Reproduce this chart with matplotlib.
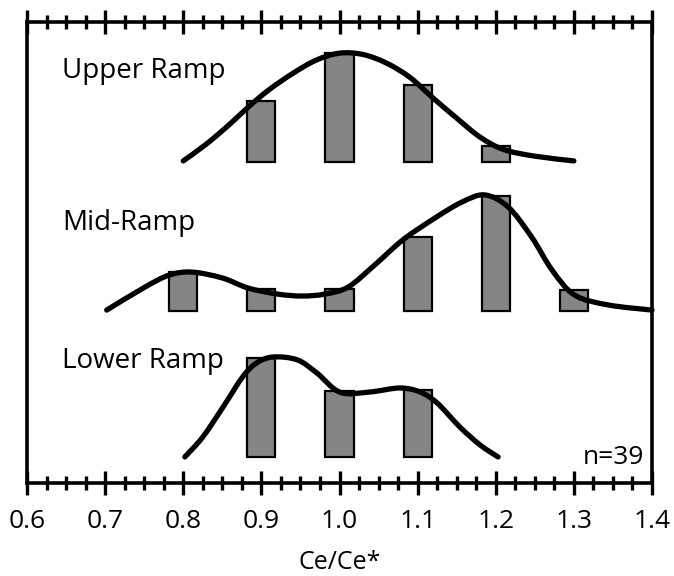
import matplotlib
matplotlib.use("Agg")
import matplotlib.pyplot as plt
from matplotlib.ticker import MultipleLocator
from matplotlib.path import Path
from matplotlib.patches import PathPatch

plt.rcParams['font.family'] = ['Open Sans', 'DejaVu Sans']

# ---------------- data (heights in count-like units) ----------------
upper_bins = [0.9, 1.0, 1.1, 1.2]
upper_vals = [3.2, 5.75, 4.05, 0.85]
upper_curve_x = [0.80, 0.83, 0.86, 0.885, 0.91, 0.94, 0.97, 1.00, 1.03,
                 1.06, 1.09, 1.12, 1.15, 1.18, 1.21, 1.25, 1.30]
upper_curve_y = [0.05, 0.95, 2.0, 2.95, 3.8, 4.65, 5.35, 5.72, 5.65,
                 5.2, 4.45, 3.35, 2.3, 1.3, 0.65, 0.3, 0.05]

mid_bins = [0.8, 0.9, 1.0, 1.1, 1.2, 1.3]
mid_vals = [2.05, 1.15, 1.15, 3.9, 6.05, 1.1]
mid_curve_x = [0.702, 0.751, 0.782, 0.811, 0.850, 0.883, 0.921, 0.952, 0.981,
               1.011, 1.045, 1.081, 1.122, 1.157, 1.186, 1.216, 1.246, 1.272,
               1.301, 1.344, 1.400]
mid_curve_y = [0.05, 1.26, 1.89, 2.05, 1.74, 1.21, 0.89, 0.79, 0.89,
               1.26, 2.42, 3.74, 4.89, 5.74, 6.11, 5.47, 3.89, 2.16,
               0.84, 0.32, 0.05]

lower_bins = [0.9, 1.0, 1.1]
lower_vals = [5.2, 3.45, 3.5]
lower_curve_x = [0.802, 0.825, 0.851, 0.876, 0.894, 0.915, 0.946, 0.971,
                 1.001, 1.039, 1.077, 1.103, 1.125, 1.154, 1.180, 1.203]
lower_curve_y = [0.0, 1.05, 2.63, 4.21, 4.95, 5.26, 5.11, 4.42,
                 3.40, 3.42, 3.63, 3.42, 2.84, 1.58, 0.63, 0.0]

group_names = ["Upper Ramp", "Mid-Ramp", "Lower Ramp"]
n_label = "n=39"
x_label = "Ce/Ce*"
x_ticks = [0.6, 0.7, 0.8, 0.9, 1.0, 1.1, 1.2, 1.3, 1.4]
x_tick_labels = ["0.6", "0.7", "0.8", "0.9", "1.0", "1.1", "1.2", "1.3", "1.4"]

# ---------------- layout ----------------
baselines = {"Upper Ramp": 16.9, "Mid-Ramp": 9.05, "Lower Ramp": 1.37}
label_y = {"Upper Ramp": 21.7, "Mid-Ramp": 13.7, "Lower Ramp": 6.4}
bar_width = 0.036


def smooth_path(xs, ys):
    """Smooth line through the given points (Catmull-Rom drawn as Bezier)."""
    pts = list(zip(xs, ys))
    verts = [pts[0]]
    codes = [Path.MOVETO]
    n = len(pts)
    for i in range(n - 1):
        p0 = pts[i - 1] if i > 0 else pts[i]
        p1 = pts[i]
        p2 = pts[i + 1]
        p3 = pts[i + 2] if i + 2 < n else pts[i + 1]
        c1 = (p1[0] + (p2[0] - p0[0]) / 6.0, p1[1] + (p2[1] - p0[1]) / 6.0)
        c2 = (p2[0] - (p3[0] - p1[0]) / 6.0, p2[1] - (p3[1] - p1[1]) / 6.0)
        verts += [c1, c2, p2]
        codes += [Path.CURVE4] * 3
    return Path(verts, codes)


fig = plt.figure(figsize=(6.74, 5.76), dpi=100)
ax = fig.add_axes([27/674, 93/576, 625/674, 461/576])
ax.set_xlim(0.6, 1.4)
ax.set_ylim(0, 24.26)

groups = [
    ("Upper Ramp", upper_bins, upper_vals, upper_curve_x, upper_curve_y),
    ("Mid-Ramp", mid_bins, mid_vals, mid_curve_x, mid_curve_y),
    ("Lower Ramp", lower_bins, lower_vals, lower_curve_x, lower_curve_y),
]
for name, bins, vals, cx, cy in groups:
    b = baselines[name]
    ax.bar(bins, vals, width=bar_width, bottom=b, color="#858585",
           edgecolor="black", linewidth=1.6, zorder=2)
    patch = PathPatch(smooth_path(cx, [b + v for v in cy]), facecolor="none",
                      edgecolor="black", lw=3.8, capstyle="round",
                      joinstyle="round", zorder=3, clip_on=False)
    ax.add_patch(patch)
    ax.text(0.645, label_y[name], name, fontsize=20, ha="left", va="center")

ax.text(1.39, 1.35, n_label, fontsize=19, ha="right", va="center")

for s in ax.spines.values():
    s.set_linewidth(2.6)

ax.set_xticks(x_ticks)
ax.set_xticklabels(x_tick_labels)
ax.xaxis.set_minor_locator(MultipleLocator(0.025))
ax.tick_params(axis="x", which="both", direction="inout", top=True,
               bottom=True, labeltop=False, width=2.4, labelsize=19, pad=10)
ax.tick_params(axis="x", which="major", length=17)
ax.tick_params(axis="x", which="minor", length=10)
ax.set_yticks([])
ax.set_xlabel(x_label, fontsize=18, labelpad=12)

fig.savefig("out.png", dpi=100)
